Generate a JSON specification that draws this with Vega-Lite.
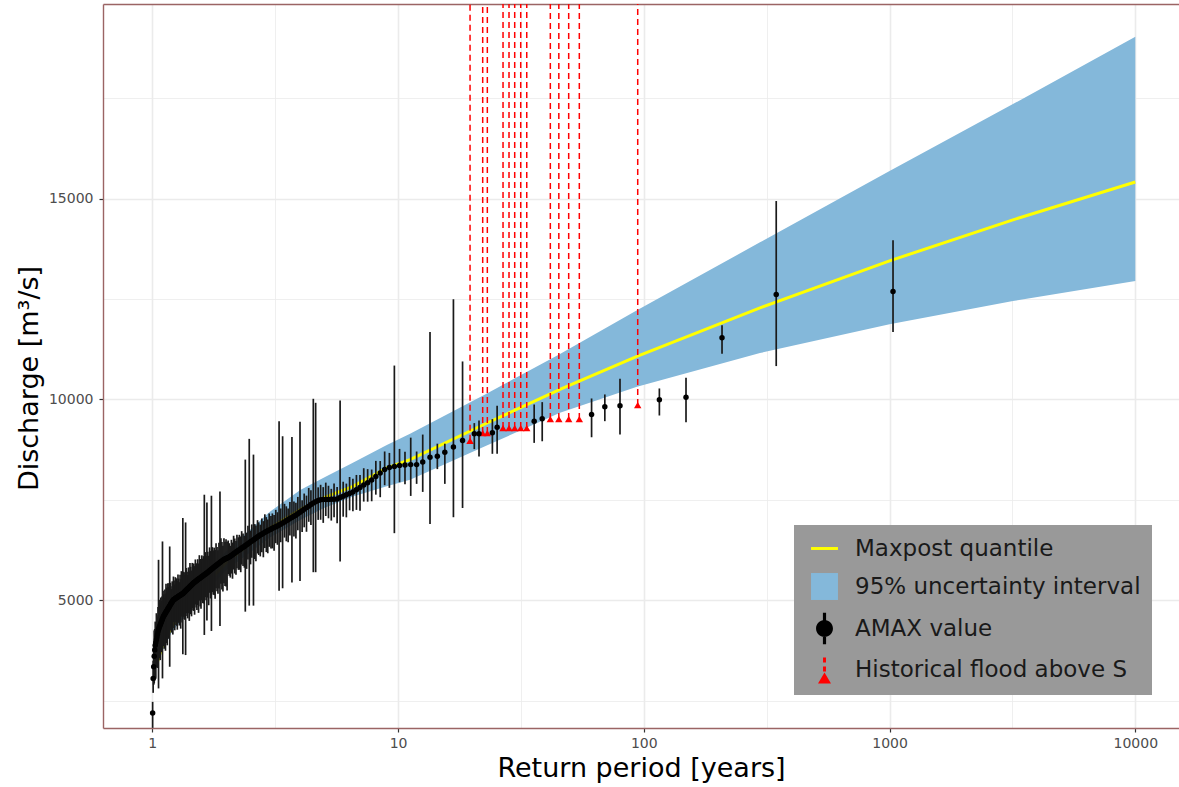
{
  "$schema": "https://vega.github.io/schema/vega-lite/v6.json",
  "width": 1076,
  "height": 724,
  "autosize": {"type": "none"},
  "padding": {"left": 103, "top": 4, "right": 0, "bottom": 59},
  "background": "white",
  "config": {
    "view": {"stroke": null},
    "font": "DejaVu Sans"
  },
  "resolve": {"axis": {"x": "independent"}},
  "datasets": {
    "band": [
      {"t": 1.05, "lo": 3370, "q": 3480, "hi": 3610},
      {"t": 1.1, "lo": 3750, "q": 3877, "hi": 4020},
      {"t": 1.2, "lo": 4210, "q": 4350, "hi": 4510},
      {"t": 1.5, "lo": 4950, "q": 5120, "hi": 5320},
      {"t": 2, "lo": 5750, "q": 5950, "hi": 6230},
      {"t": 3, "lo": 6560, "q": 6800, "hi": 7200},
      {"t": 4, "lo": 7000, "q": 7260, "hi": 7750},
      {"t": 5, "lo": 7300, "q": 7560, "hi": 8057},
      {"t": 6.55, "lo": 7585, "q": 7838, "hi": 8428},
      {"t": 9, "lo": 7839, "q": 8296, "hi": 8865},
      {"t": 11.19, "lo": 8005, "q": 8504, "hi": 9150},
      {"t": 22.59, "lo": 8835, "q": 9390, "hi": 10125},
      {"t": 45.6, "lo": 9668, "q": 10249, "hi": 11134},
      {"t": 93.8, "lo": 10314, "q": 11072, "hi": 12220},
      {"t": 297, "lo": 11155, "q": 12280, "hi": 13910},
      {"t": 1000, "lo": 11870, "q": 13449, "hi": 15686},
      {"t": 3178, "lo": 12450, "q": 14470, "hi": 17350},
      {"t": 10000, "lo": 12950, "q": 15411, "hi": 19028}
    ],
    "hist": [
      {"t": 19.63, "q": 8972}, {"t": 22.1, "q": 9163}, {"t": 23.08, "q": 9163},
      {"t": 26.74, "q": 9288}, {"t": 28.28, "q": 9288}, {"t": 29.83, "q": 9288},
      {"t": 31.56, "q": 9288}, {"t": 33.39, "q": 9288}, {"t": 41.65, "q": 9512},
      {"t": 45.1, "q": 9512}, {"t": 49.47, "q": 9512}, {"t": 54.65, "q": 9512},
      {"t": 94.45, "q": 9860}
    ],
    "leg": [
      {"s": "Maxpost quantile"}, {"s": "95% uncertainty interval"},
      {"s": "AMAX value"}, {"s": "Historical flood above S"}
    ],
    "amax": [
      {"t": 1033, "q": 12686, "lo": 11679, "hi": 13965},
      {"t": 345.8, "q": 12611, "lo": 10831, "hi": 14938},
      {"t": 208.1, "q": 11538, "lo": 11139, "hi": 11845},
      {"t": 148.5, "q": 10058, "lo": 9434, "hi": 10541},
      {"t": 115.7, "q": 9992, "lo": 9601, "hi": 10274},
      {"t": 80.0, "q": 9842, "lo": 9127, "hi": 10516},
      {"t": 69.4, "q": 9817, "lo": 9460, "hi": 10125},
      {"t": 61.3, "q": 9626, "lo": 9060, "hi": 10025},
      {"t": 38.6, "q": 9519, "lo": 8960, "hi": 9934},
      {"t": 35.8, "q": 9459, "lo": 8920, "hi": 9875},
      {"t": 25.3, "q": 9309, "lo": 8648, "hi": 9843},
      {"t": 24.2, "q": 9170, "lo": 8648, "hi": 9512},
      {"t": 21.35, "q": 9145, "lo": 8581, "hi": 9477},
      {"t": 20.43, "q": 9145, "lo": 8765, "hi": 9412},
      {"t": 18.3, "q": 8978, "lo": 7300, "hi": 10946},
      {"t": 16.8, "q": 8820, "lo": 7070, "hi": 12494},
      {"t": 15.5, "q": 8686, "lo": 7900, "hi": 8900},
      {"t": 14.45, "q": 8586, "lo": 8267, "hi": 8900},
      {"t": 13.49, "q": 8561, "lo": 6900, "hi": 11679},
      {"t": 12.6, "q": 8446, "lo": 7700, "hi": 9127},
      {"t": 11.9, "q": 8379, "lo": 7900, "hi": 8705},
      {"t": 11.26, "q": 8379, "lo": 7600, "hi": 9050},
      {"t": 10.67, "q": 8370, "lo": 7890, "hi": 8700},
      {"t": 10.14, "q": 8360, "lo": 7940, "hi": 8770},
      {"t": 9.66, "q": 8335, "lo": 6673, "hi": 10844},
      {"t": 9.22, "q": 8310, "lo": 7800, "hi": 8670},
      {"t": 8.82, "q": 8256, "lo": 7866, "hi": 8706},
      {"t": 8.46, "q": 8168, "lo": 7568, "hi": 8468},
      {"t": 8.12, "q": 8082, "lo": 7632, "hi": 8472},
      {"t": 7.81, "q": 7997, "lo": 7467, "hi": 8257},
      {"t": 7.52, "q": 7927, "lo": 7457, "hi": 8267},
      {"t": 7.25, "q": 7869, "lo": 7459, "hi": 8289},
      {"t": 7.00, "q": 7810, "lo": 7230, "hi": 8120},
      {"t": 6.77, "q": 7752, "lo": 7252, "hi": 8122},
      {"t": 6.55, "q": 7696, "lo": 7216, "hi": 8026},
      {"t": 6.35, "q": 7661, "lo": 7241, "hi": 8071},
      {"t": 6.16, "q": 7627, "lo": 7067, "hi": 7907},
      {"t": 5.98, "q": 7593, "lo": 7083, "hi": 7953},
      {"t": 5.81, "q": 7558, "lo": 5966, "hi": 9975},
      {"t": 5.65, "q": 7523, "lo": 6923, "hi": 7823},
      {"t": 5.49, "q": 7518, "lo": 7068, "hi": 7908},
      {"t": 5.35, "q": 7516, "lo": 6986, "hi": 7776},
      {"t": 5.21, "q": 7513, "lo": 7043, "hi": 7853},
      {"t": 5.08, "q": 7511, "lo": 7101, "hi": 7931},
      {"t": 4.96, "q": 7509, "lo": 6929, "hi": 7819},
      {"t": 4.84, "q": 7507, "lo": 7007, "hi": 7877},
      {"t": 4.73, "q": 7484, "lo": 7004, "hi": 7814},
      {"t": 4.62, "q": 7454, "lo": 5702, "hi": 9917},
      {"t": 4.52, "q": 7424, "lo": 5702, "hi": 10017},
      {"t": 4.42, "q": 7384, "lo": 6874, "hi": 7744},
      {"t": 4.33, "q": 7346, "lo": 6956, "hi": 7796},
      {"t": 4.24, "q": 7308, "lo": 6708, "hi": 7608},
      {"t": 4.15, "q": 7269, "lo": 6819, "hi": 7659},
      {"t": 4.07, "q": 7231, "lo": 6701, "hi": 7491},
      {"t": 3.99, "q": 7193, "lo": 5486, "hi": 9443},
      {"t": 3.91, "q": 7155, "lo": 6745, "hi": 7575},
      {"t": 3.84, "q": 7121, "lo": 6541, "hi": 7431},
      {"t": 3.77, "q": 7093, "lo": 6593, "hi": 7463},
      {"t": 3.70, "q": 7065, "lo": 5444, "hi": 9069},
      {"t": 3.63, "q": 7037, "lo": 6617, "hi": 7447},
      {"t": 3.57, "q": 7009, "lo": 6449, "hi": 7289},
      {"t": 3.51, "q": 6981, "lo": 6471, "hi": 7341},
      {"t": 3.45, "q": 6953, "lo": 6563, "hi": 7403},
      {"t": 3.39, "q": 6925, "lo": 5302, "hi": 9085},
      {"t": 3.33, "q": 6898, "lo": 6448, "hi": 7288},
      {"t": 3.28, "q": 6874, "lo": 5243, "hi": 9459},
      {"t": 3.23, "q": 6854, "lo": 6384, "hi": 7194},
      {"t": 3.18, "q": 6834, "lo": 6424, "hi": 7254},
      {"t": 3.13, "q": 6814, "lo": 6234, "hi": 7124},
      {"t": 3.08, "q": 6794, "lo": 6294, "hi": 7164},
      {"t": 3.04, "q": 6773, "lo": 6293, "hi": 7103},
      {"t": 2.99, "q": 6753, "lo": 6333, "hi": 7163},
      {"t": 2.95, "q": 6733, "lo": 6173, "hi": 7013},
      {"t": 2.91, "q": 6713, "lo": 6203, "hi": 7073},
      {"t": 2.87, "q": 6693, "lo": 6303, "hi": 7143},
      {"t": 2.83, "q": 6673, "lo": 6073, "hi": 6973},
      {"t": 2.79, "q": 6649, "lo": 6199, "hi": 7039},
      {"t": 2.75, "q": 6625, "lo": 6095, "hi": 6885},
      {"t": 2.71, "q": 6601, "lo": 6131, "hi": 6941},
      {"t": 2.68, "q": 6577, "lo": 6167, "hi": 6997},
      {"t": 2.64, "q": 6553, "lo": 5973, "hi": 6863},
      {"t": 2.61, "q": 6529, "lo": 6029, "hi": 6899},
      {"t": 2.58, "q": 6505, "lo": 4870, "hi": 8628},
      {"t": 2.54, "q": 6481, "lo": 6061, "hi": 6891},
      {"t": 2.51, "q": 6457, "lo": 5897, "hi": 6737},
      {"t": 2.48, "q": 6433, "lo": 4870, "hi": 9020},
      {"t": 2.45, "q": 6409, "lo": 6019, "hi": 6859},
      {"t": 2.42, "q": 6385, "lo": 5785, "hi": 6685},
      {"t": 2.39, "q": 6364, "lo": 4720, "hi": 8504},
      {"t": 2.37, "q": 6344, "lo": 5814, "hi": 6604},
      {"t": 2.34, "q": 6324, "lo": 5854, "hi": 6664},
      {"t": 2.31, "q": 6303, "lo": 5893, "hi": 6723},
      {"t": 2.29, "q": 6282, "lo": 5702, "hi": 6592},
      {"t": 2.26, "q": 6262, "lo": 5762, "hi": 6632},
      {"t": 2.24, "q": 6241, "lo": 5761, "hi": 6571},
      {"t": 2.21, "q": 6221, "lo": 5801, "hi": 6631},
      {"t": 2.19, "q": 6200, "lo": 5640, "hi": 6480},
      {"t": 2.165, "q": 6180, "lo": 5670, "hi": 6540},
      {"t": 2.142, "q": 6159, "lo": 5769, "hi": 6609},
      {"t": 2.120, "q": 6139, "lo": 5539, "hi": 6439},
      {"t": 2.098, "q": 6118, "lo": 5668, "hi": 6508},
      {"t": 2.077, "q": 6098, "lo": 5568, "hi": 6358},
      {"t": 2.056, "q": 6083, "lo": 5613, "hi": 6423},
      {"t": 2.035, "q": 6070, "lo": 5660, "hi": 6490},
      {"t": 2.015, "q": 6057, "lo": 5247, "hi": 6457},
      {"t": 1.995, "q": 6044, "lo": 5344, "hi": 6524},
      {"t": 1.976, "q": 6031, "lo": 5361, "hi": 6461},
      {"t": 1.957, "q": 6018, "lo": 5428, "hi": 6548},
      {"t": 1.938, "q": 6002, "lo": 5222, "hi": 6362},
      {"t": 1.920, "q": 5984, "lo": 5274, "hi": 6454},
      {"t": 1.902, "q": 5965, "lo": 5415, "hi": 6545},
      {"t": 1.885, "q": 5946, "lo": 4363, "hi": 7713},
      {"t": 1.867, "q": 5927, "lo": 5297, "hi": 6437},
      {"t": 1.850, "q": 5908, "lo": 5168, "hi": 6248},
      {"t": 1.834, "q": 5889, "lo": 5229, "hi": 6329},
      {"t": 1.817, "q": 5871, "lo": 5301, "hi": 6421},
      {"t": 1.801, "q": 5852, "lo": 5042, "hi": 6252},
      {"t": 1.785, "q": 5833, "lo": 5133, "hi": 6313},
      {"t": 1.770, "q": 5814, "lo": 5144, "hi": 6244},
      {"t": 1.755, "q": 5796, "lo": 5206, "hi": 6326},
      {"t": 1.740, "q": 5777, "lo": 4240, "hi": 7605},
      {"t": 1.725, "q": 5758, "lo": 5048, "hi": 6228},
      {"t": 1.710, "q": 5739, "lo": 5189, "hi": 6319},
      {"t": 1.696, "q": 5720, "lo": 4880, "hi": 6110},
      {"t": 1.682, "q": 5701, "lo": 5071, "hi": 6211},
      {"t": 1.668, "q": 5683, "lo": 4500, "hi": 7435},
      {"t": 1.655, "q": 5667, "lo": 5007, "hi": 6107},
      {"t": 1.641, "q": 5652, "lo": 5082, "hi": 6202},
      {"t": 1.628, "q": 5637, "lo": 4140, "hi": 7630},
      {"t": 1.615, "q": 5622, "lo": 4922, "hi": 6102},
      {"t": 1.603, "q": 5606, "lo": 4936, "hi": 6036},
      {"t": 1.590, "q": 5591, "lo": 5001, "hi": 6121},
      {"t": 1.578, "q": 5575, "lo": 4795, "hi": 5935},
      {"t": 1.566, "q": 5560, "lo": 4850, "hi": 6030},
      {"t": 1.554, "q": 5545, "lo": 4995, "hi": 6125},
      {"t": 1.542, "q": 5530, "lo": 4690, "hi": 5920},
      {"t": 1.530, "q": 5515, "lo": 4885, "hi": 6025},
      {"t": 1.519, "q": 5499, "lo": 4759, "hi": 5839},
      {"t": 1.508, "q": 5484, "lo": 4824, "hi": 5924},
      {"t": 1.497, "q": 5469, "lo": 4899, "hi": 6019},
      {"t": 1.486, "q": 5454, "lo": 4644, "hi": 5854},
      {"t": 1.475, "q": 5438, "lo": 4738, "hi": 5918},
      {"t": 1.464, "q": 5421, "lo": 4751, "hi": 5851},
      {"t": 1.454, "q": 5403, "lo": 4813, "hi": 5933},
      {"t": 1.444, "q": 5384, "lo": 4604, "hi": 5744},
      {"t": 1.433, "q": 5366, "lo": 4656, "hi": 5836},
      {"t": 1.423, "q": 5348, "lo": 4798, "hi": 5928},
      {"t": 1.414, "q": 5330, "lo": 4490, "hi": 5720},
      {"t": 1.404, "q": 5311, "lo": 4681, "hi": 5821},
      {"t": 1.394, "q": 5293, "lo": 4553, "hi": 5633},
      {"t": 1.385, "q": 5275, "lo": 4615, "hi": 5715},
      {"t": 1.376, "q": 5257, "lo": 4687, "hi": 5807},
      {"t": 1.366, "q": 5238, "lo": 3640, "hi": 6940},
      {"t": 1.357, "q": 5220, "lo": 4520, "hi": 5700},
      {"t": 1.348, "q": 5202, "lo": 4532, "hi": 5632},
      {"t": 1.339, "q": 5183, "lo": 4593, "hi": 5713},
      {"t": 1.331, "q": 5170, "lo": 3660, "hi": 7050},
      {"t": 1.322, "q": 5159, "lo": 4449, "hi": 5629},
      {"t": 1.313, "q": 5148, "lo": 4598, "hi": 5728},
      {"t": 1.305, "q": 5137, "lo": 4297, "hi": 5527},
      {"t": 1.297, "q": 5126, "lo": 4496, "hi": 5636},
      {"t": 1.288, "q": 5114, "lo": 4374, "hi": 5454},
      {"t": 1.280, "q": 5103, "lo": 4443, "hi": 5543},
      {"t": 1.272, "q": 5092, "lo": 4522, "hi": 5642},
      {"t": 1.264, "q": 5081, "lo": 4271, "hi": 5481},
      {"t": 1.257, "q": 5070, "lo": 4370, "hi": 5550},
      {"t": 1.249, "q": 5059, "lo": 4389, "hi": 5489},
      {"t": 1.241, "q": 5048, "lo": 4458, "hi": 5578},
      {"t": 1.234, "q": 5036, "lo": 4256, "hi": 5396},
      {"t": 1.226, "q": 5025, "lo": 4315, "hi": 5495},
      {"t": 1.219, "q": 5014, "lo": 4464, "hi": 5594},
      {"t": 1.212, "q": 4991, "lo": 4151, "hi": 5381},
      {"t": 1.205, "q": 4965, "lo": 4335, "hi": 5475},
      {"t": 1.197, "q": 4940, "lo": 4200, "hi": 5280},
      {"t": 1.190, "q": 4914, "lo": 4254, "hi": 5354},
      {"t": 1.184, "q": 4889, "lo": 4319, "hi": 5439},
      {"t": 1.177, "q": 4864, "lo": 3349, "hi": 6342},
      {"t": 1.170, "q": 4839, "lo": 4049, "hi": 5429},
      {"t": 1.163, "q": 4814, "lo": 4054, "hi": 5334},
      {"t": 1.157, "q": 4789, "lo": 4109, "hi": 5429},
      {"t": 1.150, "q": 4763, "lo": 3883, "hi": 5213},
      {"t": 1.144, "q": 4738, "lo": 3938, "hi": 5318},
      {"t": 1.137, "q": 4712, "lo": 4072, "hi": 5412},
      {"t": 1.131, "q": 4687, "lo": 3747, "hi": 5167},
      {"t": 1.125, "q": 4662, "lo": 3942, "hi": 5272},
      {"t": 1.119, "q": 4637, "lo": 3797, "hi": 5057},
      {"t": 1.112, "q": 4611, "lo": 3861, "hi": 5151},
      {"t": 1.106, "q": 4582, "lo": 3922, "hi": 5242},
      {"t": 1.100, "q": 4545, "lo": 3059, "hi": 6467},
      {"t": 1.095, "q": 4507, "lo": 3717, "hi": 5097},
      {"t": 1.089, "q": 4470, "lo": 3710, "hi": 4990},
      {"t": 1.083, "q": 4432, "lo": 3752, "hi": 5072},
      {"t": 1.077, "q": 4394, "lo": 3514, "hi": 4844},
      {"t": 1.071, "q": 4357, "lo": 3557, "hi": 4937},
      {"t": 1.066, "q": 4319, "lo": 3679, "hi": 5019},
      {"t": 1.060, "q": 4282, "lo": 2810, "hi": 6010},
      {"t": 1.055, "q": 4227, "lo": 3507, "hi": 4837},
      {"t": 1.049, "q": 4159, "lo": 3319, "hi": 4579},
      {"t": 1.044, "q": 4090, "lo": 3340, "hi": 4630},
      {"t": 1.039, "q": 4021, "lo": 3361, "hi": 4681},
      {"t": 1.033, "q": 3952, "lo": 3052, "hi": 4452},
      {"t": 1.028, "q": 3883, "lo": 3093, "hi": 4473},
      {"t": 1.023, "q": 3769, "lo": 3009, "hi": 4289},
      {"t": 1.018, "q": 3613, "lo": 2933, "hi": 4253},
      {"t": 1.013, "q": 3349, "lo": 2900, "hi": 3900},
      {"t": 1.008, "q": 3059, "lo": 2700, "hi": 3500},
      {"t": 1.003, "q": 2201, "lo": 1828, "hi": 2476}
    ]
  },
  "layer": [
    {
      "data": {"name": "band"},
      "mark": {"type": "area", "color": "#84B8DA", "opacity": 1},
      "encoding": {
        "x": {
          "field": "t", "type": "quantitative",
          "scale": {"type": "log", "domain": [0.63, 15059], "nice": false},
          "axis": {
            "values": [1, 3.16228, 10, 31.6228, 100, 316.228, 1000, 3162.28, 10000],
            "labelExpr": "indexof([1,10,100,1000,10000], datum.value) >= 0 ? format(datum.value, 'd') : ''",
            "domain": true, "domainColor": "#9B6464", "domainWidth": 1.4,
            "gridColor": "#EBEBEB",
            "gridWidth": {"condition": {"test": "indexof([1,10,100,1000,10000], datum.value) >= 0", "value": 1.6}, "value": 0.8},
            "tickOpacity": {"condition": {"test": "indexof([1,10,100,1000,10000], datum.value) >= 0", "value": 1}, "value": 0},
            "tickColor": "#333333", "tickSize": 4, "tickWidth": 1.2,
            "labelFont": "DejaVu Sans", "labelFontSize": 14, "labelColor": "#4D4D4D",
            "labelPadding": 4, "labelOverlap": false, "labelFlush": false,
            "title": "Return period [years]",
            "titleFont": "DejaVu Sans", "titleFontSize": 27, "titleFontWeight": "normal", "titleColor": "#000000",
            "titleBaseline": "alphabetic", "titleY": 48
          }
        },
        "y": {
          "field": "lo", "type": "quantitative",
          "scale": {"domain": [1825, 19841], "nice": false, "zero": false},
          "axis": {
            "values": [2500, 5000, 7500, 10000, 12500, 15000, 17500],
            "labelExpr": "datum.value % 5000 == 0 ? format(datum.value, 'd') : ''",
            "domain": true, "domainColor": "#9B6464", "domainWidth": 1.4,
            "gridColor": "#EBEBEB",
            "gridWidth": {"condition": {"test": "datum.value % 5000 == 0", "value": 1.6}, "value": 0.8},
            "tickOpacity": {"condition": {"test": "datum.value % 5000 == 0", "value": 1}, "value": 0},
            "tickColor": "#333333", "tickSize": 4, "tickWidth": 1.2,
            "labelFont": "DejaVu Sans", "labelFontSize": 14, "labelColor": "#4D4D4D",
            "labelPadding": 6, "labelOverlap": false,
            "title": "Discharge [m³/s]",
            "titleFont": "DejaVu Sans", "titleFontSize": 27, "titleFontWeight": "normal", "titleColor": "#000000",
            "titleAngle": -90, "titleAlign": "center", "titleBaseline": "alphabetic",
            "titleX": -66, "titleY": 374
          }
        },
        "y2": {"field": "hi"}
      }
    },
    {
      "data": {"name": "band"},
      "mark": {"type": "line", "color": "#FFFF00", "strokeWidth": 3},
      "encoding": {
        "x": {"field": "t", "type": "quantitative", "axis": null},
        "y": {"field": "q", "type": "quantitative"}
      }
    },
    {
      "data": {"name": "hist"},
      "mark": {"type": "rule", "color": "#FF0000", "strokeDash": [6, 4], "strokeWidth": 1.5, "clip": true},
      "encoding": {
        "x": {
          "field": "t", "type": "quantitative",
          "axis": {"orient": "top", "domain": true, "domainColor": "#9B6464", "domainWidth": 1.4,
                   "ticks": false, "labels": false, "grid": false, "title": null}
        },
        "y": {"field": "q", "type": "quantitative"},
        "y2": {"datum": 40000}
      }
    },
    {
      "data": {"name": "hist"},
      "mark": {"type": "point", "shape": "triangle-up", "filled": true, "color": "#FF0000", "size": 55, "opacity": 1},
      "encoding": {
        "x": {"field": "t", "type": "quantitative", "axis": null},
        "y": {"field": "q", "type": "quantitative"}
      }
    },
    {
      "data": {"name": "amax"},
      "mark": {"type": "rule", "color": "#1A1A1A", "strokeWidth": 1.7},
      "encoding": {
        "x": {"field": "t", "type": "quantitative", "axis": null},
        "y": {"field": "lo", "type": "quantitative"},
        "y2": {"field": "hi"}
      }
    },
    {
      "data": {"name": "amax"},
      "mark": {"type": "point", "filled": true, "color": "#000000", "size": 30, "opacity": 1},
      "encoding": {
        "x": {"field": "t", "type": "quantitative", "axis": null},
        "y": {"field": "q", "type": "quantitative"}
      }
    },
    {
      "data": {"name": "leg"},
      "mark": {"type": "point", "filled": true, "opacity": 0},
      "encoding": {
        "x": {"datum": 1, "type": "quantitative", "axis": null},
        "y": {"datum": 5000, "type": "quantitative"},
        "fill": {
          "field": "s", "type": "nominal",
          "scale": {
            "domain": ["Maxpost quantile", "95% uncertainty interval", "AMAX value", "Historical flood above S"],
            "range": ["#FFFF00", "#84B8DA", "#000000", "#FF0000"]
          },
          "legend": {
            "orient": "none", "legendX": 691, "legendY": 521, "title": null,
            "fillColor": "#999999", "padding": 11, "symbolSize": 600, "symbolOffset": 7,
            "labelOffset": 18, "rowPadding": 12, "labelFont": "DejaVu Sans", "labelFontSize": 23,
            "labelColor": "#1A1A1A", "symbolOpacity": 1, "symbolStrokeWidth": 0, "labelLimit": 0
          }
        },
        "shape": {
          "field": "s", "type": "nominal",
          "scale": {
            "domain": ["Maxpost quantile", "95% uncertainty interval", "AMAX value", "Historical flood above S"],
            "range": [
              "M-1.1,-0.12H1.1V0.12H-1.1Z",
              "M-1.1,-1.1H1.1V1.1H-1.1Z",
              "M-0.13,-1.29H0.13V1.29H-0.13Z M-0.69,0 A0.69,0.69 0 1,1 0.69,0 A0.69,0.69 0 1,1 -0.69,0 Z",
              "M-0.53,1.14L0,0.25L0.53,1.14Z M-0.12,-0.98H0.12V-0.57H-0.12Z M-0.12,-0.24H0.12V0.16H-0.12Z"
            ]
          },
          "legend": {
            "orient": "none", "legendX": 691, "legendY": 521, "title": null,
            "fillColor": "#999999", "padding": 11, "symbolSize": 600, "symbolOffset": 7,
            "labelOffset": 18, "rowPadding": 12, "labelFont": "DejaVu Sans", "labelFontSize": 23,
            "labelColor": "#1A1A1A", "symbolOpacity": 1, "symbolStrokeWidth": 0, "labelLimit": 0
          }
        }
      }
    }
  ]
}
